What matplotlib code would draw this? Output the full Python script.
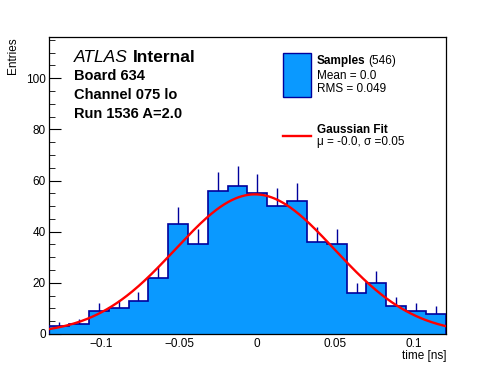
import numpy as np
import matplotlib
matplotlib.use("Agg")
from matplotlib import pyplot as plt
from matplotlib.patches import Rectangle
from matplotlib.lines import Line2D
from matplotlib.ticker import MultipleLocator

plt.rcParams['font.family'] = ['Liberation Sans', 'DejaVu Sans']

# histogram of sample times, 20 bins
x_lo, x_hi = -0.1333, 0.1208
counts = [3, 4, 9, 10, 13, 22, 43, 35, 56, 58, 55, 50, 52, 36, 35, 16, 20, 11, 9, 8]

# gaussian fit result
fit_amp = 54.6
fit_mean = -0.0015
fit_sigma = 0.051

atlas_lines = ['Board 634', 'Channel 075 lo', 'Run 1536 A=2.0']
n_entries = 546
mean_txt = 'Mean = 0.0'
rms_txt = 'RMS = 0.049'
fit_txt = '\u03bc = -0.0, \u03c3 =0.05'

fill_col = '#0a99ff'
edge_col = '#00009c'
W, H = 496, 372


def fx(px):
    return px / W


def fy(py):
    return 1 - py / H


fig = plt.figure(figsize=(4.96, 3.72), dpi=100)
ax = fig.add_axes([fx(49.3), fy(334), (445.7 - 49.3) / W, (334 - 37.3) / H])

counts = np.array(counts, dtype=float)
edges = np.linspace(x_lo, x_hi, len(counts) + 1)
centers = 0.5 * (edges[:-1] + edges[1:])
err = np.sqrt(counts)

# error bars sit under the fill so only the upper half shows
ax.vlines(centers, counts - err, counts + err, color=edge_col, lw=1.0, zorder=1)
ax.stairs(counts, edges, fill=True, color=fill_col, zorder=2)
ax.stairs(counts, edges, color=edge_col, lw=1.2, zorder=3)

xs = np.linspace(x_lo, x_hi, 400)
ax.plot(xs, fit_amp * np.exp(-0.5 * ((xs - fit_mean) / fit_sigma) ** 2),
        color='#ff0000', lw=1.7, zorder=4)

ax.set_xlim(x_lo, x_hi)
ax.set_ylim(0, 116)
ax.xaxis.set_major_locator(MultipleLocator(0.05))
ax.xaxis.set_minor_locator(MultipleLocator(0.01))
ax.yaxis.set_major_locator(MultipleLocator(20))
ax.yaxis.set_minor_locator(MultipleLocator(5))
ax.xaxis.set_major_formatter(plt.FuncFormatter(lambda v, p: '0' if abs(v) < 1e-9 else ('%g' % v).replace('-', '\u2212')))
ax.tick_params(axis='both', which='both', direction='in', top=False, right=False, labelsize=8.5)
ax.tick_params(axis='y', which='major', length=8.6, pad=2.5)
ax.tick_params(axis='y', which='minor', length=4.3)
ax.tick_params(axis='x', which='major', length=6.4, pad=3)
ax.tick_params(axis='x', which='minor', length=3.2)
for s in ax.spines.values():
    s.set_linewidth(0.9)

fig.text(fx(446.7), fy(356), 'time [ns]', ha='right', va='center', fontsize=8.5)
fig.text(fx(13), fy(37), 'Entries', ha='center', va='top', rotation=90, fontsize=8.5)

# ATLAS label block
t = fig.text(fx(74), fy(57), 'ATLAS', style='italic', fontsize=12.5, va='center')
fig.canvas.draw()
bb = t.get_window_extent()
fig.text(bb.x1 / W + fx(5), fy(57), 'Internal', weight='bold', fontsize=12.5, va='center')
for i, line in enumerate(atlas_lines):
    fig.text(fx(74), fy(76 + 19 * i), line, weight='bold', fontsize=10.5, va='center')

# legend
fig.add_artist(Rectangle((fx(283.3), fy(96.5)), (311.3 - 283.3) / W, (96.5 - 53.3) / H,
                         transform=fig.transFigure, facecolor=fill_col, edgecolor=edge_col, lw=1.0))
t2 = fig.text(fx(316.7), fy(61), 'Samples', weight='bold', fontsize=8.5, va='center')
fig.canvas.draw()
bb2 = t2.get_window_extent()
fig.text(bb2.x1 / W + fx(2.5), fy(61), '(%d)' % n_entries, fontsize=8.5, va='center')
fig.text(fx(316.7), fy(76), mean_txt, fontsize=8.5, va='center')
fig.text(fx(316.7), fy(89), rms_txt, fontsize=8.5, va='center')

fig.add_artist(Line2D([fx(283.3), fx(311.3)], [fy(135.7), fy(135.7)],
                      transform=fig.transFigure, color='#ff0000', lw=1.7))
fig.text(fx(316.7), fy(130), 'Gaussian Fit', weight='bold', fontsize=8.5, va='center')
fig.text(fx(316.7), fy(142.5), fit_txt, fontsize=8.5, va='center')

fig.savefig('out.png', dpi=100)
